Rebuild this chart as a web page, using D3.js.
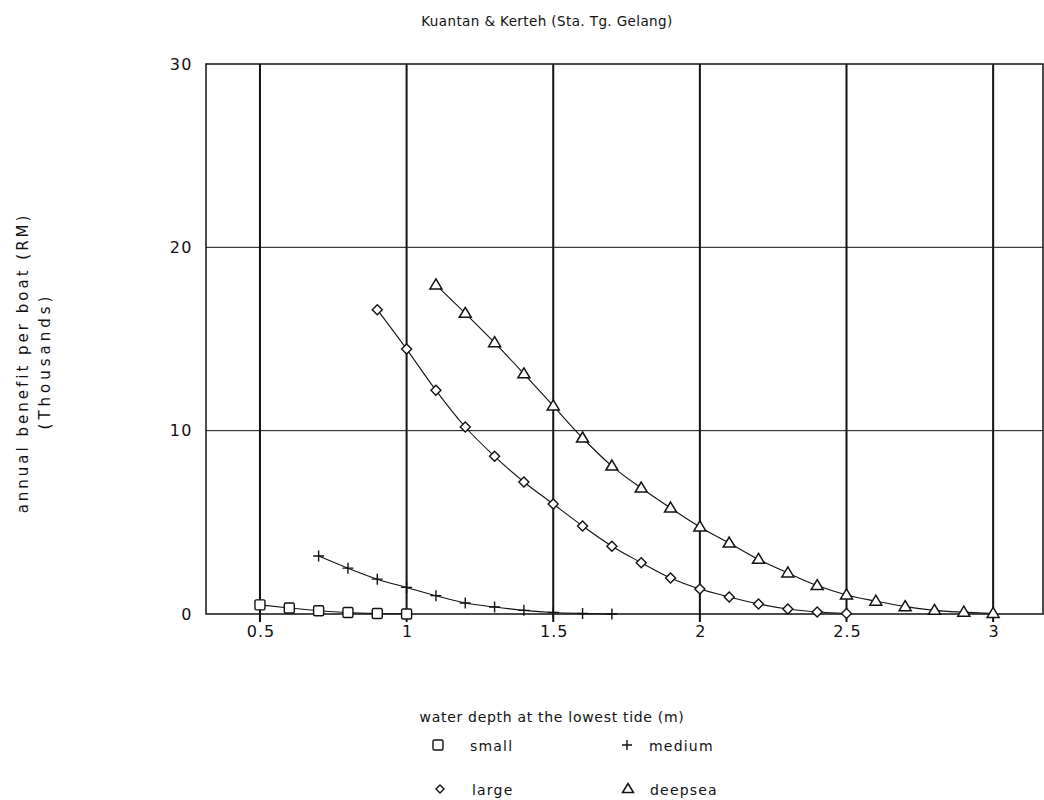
<!DOCTYPE html>
<html><head><meta charset="utf-8">
<script src="https://cdn.jsdelivr.net/npm/d3@7"></script>
<style>body{margin:0;background:#fff}text{font-family:"DejaVu Sans",sans-serif;fill:#111}</style>
</head><body>
<svg id="c" width="1044" height="800"></svg>
<script>
const title = "Kuantan & Kerteh (Sta. Tg. Gelang)";
const xLabel = "water depth at the lowest tide (m)";
const yLabel1 = "annual benefit per boat (RM)";
const yLabel2 = "(Thousands)";
const xTicks = [0.5, 1, 1.5, 2, 2.5, 3];
const xTickLabels = ["0.5", "1", "1.5", "2", "2.5", "3"];
const yTicks = [0, 10, 20, 30];

const smallX = [0.5, 0.6, 0.7, 0.8, 0.9, 1.0];
const smallY = [0.5, 0.33, 0.18, 0.08, 0.03, 0.0];
const mediumX = [0.7, 0.8, 0.9, 1.0, 1.1, 1.2, 1.3, 1.4, 1.5, 1.6, 1.7];
const mediumY = [3.16, 2.5, 1.9, 1.45, 1.0, 0.6, 0.38, 0.2, 0.08, 0.03, 0.0];
const largeX = [0.9, 1.0, 1.1, 1.2, 1.3, 1.4, 1.5, 1.6, 1.7, 1.8, 1.9, 2.0, 2.1, 2.2, 2.3, 2.4, 2.5];
const largeY = [16.6, 14.45, 12.2, 10.2, 8.6, 7.2, 6.0, 4.8, 3.7, 2.8, 1.96, 1.36, 0.93, 0.55, 0.27, 0.11, 0.03];
const deepX = [1.1, 1.2, 1.3, 1.4, 1.5, 1.6, 1.7, 1.8, 1.9, 2.0, 2.1, 2.2, 2.3, 2.4, 2.5, 2.6, 2.7, 2.8, 2.9, 3.0];
const deepY = [17.95, 16.4, 14.8, 13.1, 11.35, 9.6, 8.07, 6.87, 5.78, 4.75, 3.87, 2.98, 2.24, 1.55, 1.04, 0.7, 0.4, 0.2, 0.1, 0.03];

const seriesNames = ["small", "medium", "large", "deepsea"];
const seriesSymbols = ["square", "plus", "diamond", "triangle"];

const svg = d3.select("#c");
const L = 206, R = 1043, T = 64, B = 614;
const x = d3.scaleLinear().domain([0.316, 3.17]).range([L, R]);
const y = d3.scaleLinear().domain([0, 30]).range([B, T]);

svg.append("g").selectAll("line").data(yTicks.filter(d => d > 0 && d < 30)).join("line")
  .attr("x1", L).attr("x2", R).attr("y1", d => y(d)).attr("y2", d => y(d))
  .attr("stroke", "#111").attr("stroke-width", 1);
svg.append("g").selectAll("line").data(xTicks).join("line")
  .attr("x1", d => x(d)).attr("x2", d => x(d)).attr("y1", T).attr("y2", B + 8)
  .attr("stroke", "#111").attr("stroke-width", 2);
svg.append("rect").attr("x", L).attr("y", T).attr("width", R - L).attr("height", B - T)
  .attr("fill", "none").attr("stroke", "#111").attr("stroke-width", 1.5);

const xa = svg.append("g").attr("transform", `translate(0,${B})`)
  .call(d3.axisBottom(x).tickValues(xTicks).tickFormat((d, i) => xTickLabels[i]).tickSize(0).tickPadding(12));
xa.select(".domain").remove();
xa.selectAll("text").style("font-size", "16px").style("letter-spacing", "1px").attr("dx", "0.5")
  .style("font-family", "DejaVu Sans, sans-serif").attr("fill", "#111");
const ya = svg.append("g").attr("transform", `translate(${L},0)`)
  .call(d3.axisLeft(y).tickValues(yTicks).tickFormat(d3.format("d")).tickSize(0).tickPadding(13));
ya.select(".domain").remove();
ya.selectAll("text").style("font-size", "16px").style("letter-spacing", "1.5px")
  .style("font-family", "DejaVu Sans, sans-serif").attr("fill", "#111");

const series = [
  {xs: smallX, ys: smallY},
  {xs: mediumX, ys: mediumY},
  {xs: largeX, ys: largeY},
  {xs: deepX, ys: deepY}
];
const line = d3.line().x(d => x(d[0])).y(d => y(d[1])).curve(d3.curveMonotoneX);

function drawSymbol(g, type, cx, cy, s) {
  const h = s / 2;
  if (type === "square") {
    g.append("rect").attr("x", cx - h).attr("y", cy - h).attr("width", s).attr("height", s)
      .attr("rx", 1.5).attr("fill", "#fff").attr("stroke", "#111").attr("stroke-width", 1.4);
  } else if (type === "plus") {
    g.append("path").attr("d", `M${cx - h},${cy}H${cx + h}M${cx},${cy - h}V${cy + h}`)
      .attr("stroke", "#111").attr("stroke-width", 1.4).attr("fill", "none");
  } else if (type === "diamond") {
    g.append("path").attr("d", `M${cx},${cy - h}L${cx + h},${cy}L${cx},${cy + h}L${cx - h},${cy}Z`)
      .attr("fill", "#fff").attr("stroke", "#111").attr("stroke-width", 1.4);
  } else {
    g.append("path").attr("d", `M${cx},${cy - h - 1}L${cx + h + 1},${cy + h - 1}L${cx - h - 1},${cy + h - 1}Z`)
      .attr("fill", "#fff").attr("stroke", "#111").attr("stroke-width", 1.5);
  }
}

series.forEach((s, i) => {
  const pts = s.xs.map((v, j) => [v, s.ys[j]]);
  svg.append("path").datum(pts).attr("d", line).attr("fill", "none")
    .attr("stroke", "#111").attr("stroke-width", 1.1);
  const g = svg.append("g");
  pts.forEach(p => drawSymbol(g, seriesSymbols[i], x(p[0]), y(p[1]), i === 1 ? 11 : 10));
});

svg.append("text").attr("x", 547).attr("y", 26).attr("text-anchor", "middle")
  .style("font-size", "13.5px").style("letter-spacing", "0.4px").text(title);
svg.append("text").attr("x", 552).attr("y", 722).attr("text-anchor", "middle")
  .style("font-size", "14px").style("letter-spacing", "0.7px").text(xLabel);
svg.append("text").attr("transform", "translate(28,363) rotate(-90)").attr("text-anchor", "middle")
  .style("font-size", "15px").style("letter-spacing", "3px").text(yLabel1);
svg.append("text").attr("transform", "translate(50,361) rotate(-90)").attr("text-anchor", "middle")
  .style("font-size", "15px").style("letter-spacing", "4px").text(yLabel2);

const legPos = [[438, 746], [627, 746], [440, 790], [628, 790]];
const legSize = [10, 10, 8, 9];
const leg = svg.append("g");
seriesNames.forEach((n, i) => {
  const [lx, ly] = legPos[i];
  drawSymbol(leg, seriesSymbols[i], lx, ly - 1, legSize[i]);
  leg.append("text").attr("x", lx + (i % 2 === 0 ? 32 : 22)).attr("y", ly + 5)
    .style("font-size", "14px").style("letter-spacing", "1.2px").text(n);
});
</script>
</body></html>
